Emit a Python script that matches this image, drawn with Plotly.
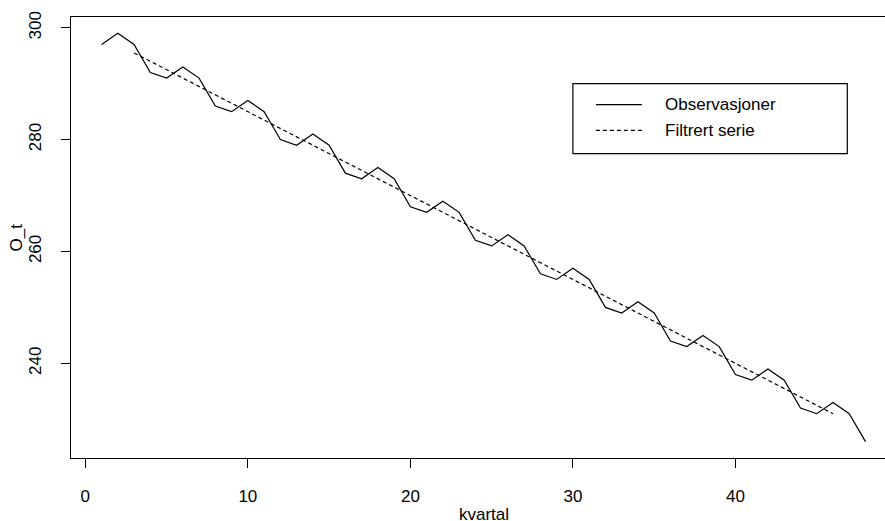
import plotly.graph_objects as go

quarters = list(range(1, 49))
observations = [297, 299, 297, 292, 291, 293, 291, 286, 285, 287, 285, 280,
                279, 281, 279, 274, 273, 275, 273, 268, 267, 269, 267, 262,
                261, 263, 261, 256, 255, 257, 255, 250, 249, 251, 249, 244,
                243, 245, 243, 238, 237, 239, 237, 232, 231, 233, 231, 226]
filtered_quarters = quarters[2:46]
filtered = [295.5, 294, 292.5, 291, 289.5, 288, 286.5, 285, 283.5, 282, 280.5,
            279, 277.5, 276, 274.5, 273, 271.5, 270, 268.5, 267, 265.5, 264,
            262.5, 261, 259.5, 258, 256.5, 255, 253.5, 252, 250.5, 249, 247.5,
            246, 244.5, 243, 241.5, 240, 238.5, 237, 235.5, 234, 232.5, 231]
x_ticks = [0, 10, 20, 30, 40]
y_ticks = [240, 260, 280, 300]
legend_labels = ["Observasjoner", "Filtrert serie"]

FONT = "Liberation Sans, Arial, Helvetica, sans-serif"
FS = 17

fig = go.Figure()
fig.add_trace(go.Scatter(x=quarters, y=observations, mode="lines",
                         line=dict(color="black", width=1.2),
                         name=legend_labels[0], showlegend=False))
fig.add_trace(go.Scatter(x=filtered_quarters, y=filtered, mode="lines",
                         line=dict(color="black", width=1.2, dash="4px,3px"),
                         name=legend_labels[1], showlegend=False))

# manual legend box (R style)
lx0, lx1, ly0, ly1 = 0.6166, 0.9537, 0.6904, 0.8488
fig.add_shape(type="rect", xref="paper", yref="paper", x0=lx0, x1=lx1, y0=ly0, y1=ly1,
              line=dict(color="black", width=1.2), fillcolor="rgba(0,0,0,0)")
rows = [0.8013, 0.7431]
dashes = ["solid", "4px,3px"]
for yy, d, lab in zip(rows, dashes, legend_labels):
    fig.add_shape(type="line", xref="paper", yref="paper", x0=0.6448, x1=0.7013,
                  y0=yy, y1=yy, line=dict(color="black", width=1.2, dash=d))
    fig.add_annotation(xref="paper", yref="paper", x=0.7269, y=yy, text=lab,
                       showarrow=False, xanchor="left", yanchor="middle",
                       font=dict(family=FONT, size=FS, color="black"))

# axis titles
fig.add_annotation(xref="x", yref="paper", x=24.5, y=0, yshift=-56, text="kvartal",
                   showarrow=False, xanchor="center", yanchor="middle",
                   font=dict(family=FONT, size=FS, color="black"))
fig.add_annotation(xref="paper", yref="y", x=0, xshift=-55, y=262.5, text="O_t",
                   textangle=-90, showarrow=False, xanchor="center", yanchor="middle",
                   font=dict(family=FONT, size=FS, color="black"))

fig.update_layout(
    width=885, height=521,
    margin=dict(l=71, r=0, t=17, b=63),
    paper_bgcolor="white", plot_bgcolor="white",
    font=dict(family=FONT, size=FS, color="black"),
    showlegend=False,
)
fig.update_xaxes(range=[-0.88, 49.2], tickvals=x_ticks, ticks="outside", ticklen=9,
                 tickwidth=1.2, tickcolor="black", showline=True, linecolor="black",
                 linewidth=1.3, mirror=True, showgrid=False, zeroline=False,
                 ticklabelstandoff=13, tickfont=dict(family=FONT, size=FS))
fig.update_yaxes(range=[223.08, 301.92], tickvals=y_ticks, ticks="outside", ticklen=9,
                 tickwidth=1.2, tickcolor="black", showline=True, linecolor="black",
                 linewidth=1.3, mirror=False, showgrid=False, zeroline=False,
                 tickangle=-90, ticklabelstandoff=13, tickfont=dict(family=FONT, size=FS))

fig.write_html("out.html")
